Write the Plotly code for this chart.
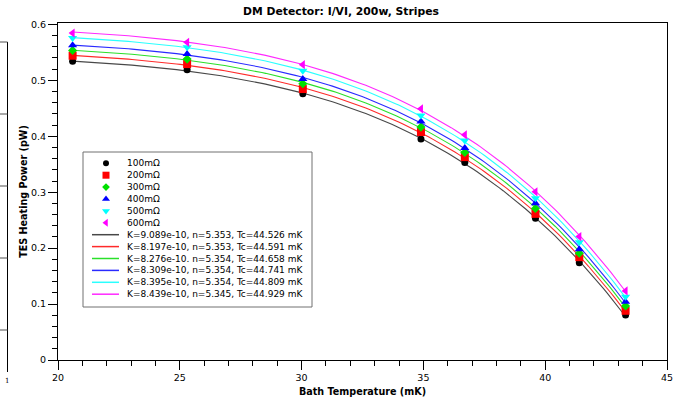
import numpy as np
import plotly.graph_objects as go

# Bath temperature (mK) at each measurement
temps = [20.6, 25.3, 30.05, 34.9, 36.7, 39.6, 41.4, 43.3]

# TES heating power (pW) for each bias resistance
p_100 = [0.534, 0.519, 0.476, 0.395, 0.353, 0.2535, 0.174, 0.0805]
p_200 = [0.544, 0.529, 0.4844, 0.4075, 0.3627, 0.2613, 0.1838, 0.088]
p_300 = [0.5535, 0.538, 0.4939, 0.4164, 0.371, 0.2708, 0.191, 0.0966]
p_400 = [0.5625, 0.547, 0.5023, 0.4265, 0.3788, 0.2804, 0.198, 0.1043]
p_500 = [0.5757, 0.559, 0.517, 0.437, 0.3925, 0.2894, 0.2106, 0.1133]
p_600 = [0.5846, 0.568, 0.528, 0.449, 0.4027, 0.3006, 0.2207, 0.1235]

series_names = ["100mΩ", "200mΩ", "300mΩ", "400mΩ", "500mΩ", "600mΩ"]
fit_labels = [
    "K=9.089e-10, n=5.353, Tc=44.526 mK",
    "K=8.197e-10, n=5.353, Tc=44.591 mK",
    "K=8.276e-10. n=5.354, Tc=44.658 mK",
    "K=8.309e-10, n=5.354, Tc=44.741 mK",
    "K=8.395e-10, n=5.354, Tc=44.809 mK",
    "K=8.439e-10, n=5.345, Tc=44.929 mK",
]
fit_n = [5.353, 5.353, 5.354, 5.354, 5.354, 5.345]

x_ticks = [20, 25, 30, 35, 40, 45]
y_ticks = [0, 0.1, 0.2, 0.3, 0.4, 0.5, 0.6]

powers = [p_100, p_200, p_300, p_400, p_500, p_600]
marker_colors = ["#000000", "#ff0000", "#00e000", "#0000ff", "#00ffff", "#ff00ff"]
line_colors = ["#484848", "#ff2a2a", "#2ae02a", "#2a2aff", "#2affff", "#ff2aff"]
symbols = ["circle", "square", "diamond", "triangle-up", "triangle-down", "triangle-left"]
sizes = [7, 8, 7, 8, 8, 8]

W, H = 675, 398
ML, MR, MT, MB = 58, 8, 23, 38
PW, PH = W - ML - MR, H - MT - MB

FONT = "DejaVu Sans"

fig = go.Figure()

# Power-law fits P = K (Tc^n - T^n), linear least squares in (K*Tc^n, K) for fixed n
t_arr = np.array(temps)
t_fine = np.linspace(t_arr.min(), t_arr.max(), 150)
for p, n, col in zip(powers, fit_n, line_colors):
    A = np.column_stack([np.ones_like(t_arr), -t_arr ** n])
    (a, k), *_ = np.linalg.lstsq(A, np.array(p), rcond=None)
    fig.add_trace(go.Scatter(x=t_fine, y=a - k * t_fine ** n, mode="lines",
                             line=dict(color=col, width=1.1), showlegend=False,
                             hoverinfo="skip"))

for p, col, sym, sz in zip(powers, marker_colors, symbols, sizes):
    fig.add_trace(go.Scatter(x=temps, y=p, mode="markers",
                             marker=dict(symbol=sym, size=sz, color=col,
                                         line=dict(width=0)),
                             showlegend=False))

# Legend box drawn on a pixel-scaled overlay axis pair
box_x0, box_x1, box_y0, box_y1 = 25, 254, 129, 284
row0, row_step = 140.3, 11.9
sym_x, line_x0, line_x1, text_x = 48, 34, 61, 66.5

shapes = [dict(type="rect", xref="x2", yref="y2", x0=box_x0, x1=box_x1,
               y0=box_y0, y1=box_y1, line=dict(color="#707070", width=1),
               fillcolor="white", layer="below")]
annotations = []
for i, (name, col, sym, sz) in enumerate(zip(series_names, marker_colors, symbols, sizes)):
    yy = row0 + row_step * i
    fig.add_trace(go.Scatter(x=[sym_x], y=[yy], xaxis="x2", yaxis="y2", mode="markers",
                             marker=dict(symbol=sym, size=sz - 1, color=col, line=dict(width=0)),
                             showlegend=False, hoverinfo="skip"))
    annotations.append(dict(xref="x2", yref="y2", x=text_x, y=yy, text=name,
                            showarrow=False, xanchor="left", yanchor="middle",
                            font=dict(family=FONT, size=9, color="black")))
for j, (lab, col) in enumerate(zip(fit_labels, line_colors)):
    yy = row0 + row_step * (6 + j)
    shapes.append(dict(type="line", xref="x2", yref="y2", x0=line_x0, x1=line_x1,
                       y0=yy, y1=yy, line=dict(color=col, width=1.5)))
    annotations.append(dict(xref="x2", yref="y2", x=text_x, y=yy, text=lab,
                            showarrow=False, xanchor="left", yanchor="middle",
                            font=dict(family=FONT, size=9, color="black")))


# Edge of the neighbouring panel at the far left
def px(x):
    return (x - ML) / PW


def py(y):
    return (MT + PH - y) / PH


shapes.append(dict(type="line", xref="paper", yref="paper", x0=px(7.5), x1=px(7.5),
                   y0=py(42), y1=py(372), line=dict(color="black", width=1)))
for ty in [42, 114, 186, 258, 330]:
    shapes.append(dict(type="line", xref="paper", yref="paper", x0=px(0), x1=px(7.5),
                       y0=py(ty), y1=py(ty), line=dict(color="#505050", width=1)))
annotations.append(dict(xref="paper", yref="paper", x=px(7), y=py(381), text="1",
                        showarrow=False, xanchor="center", yanchor="middle",
                        font=dict(family="DejaVu Serif", size=7, color="black")))

fig.update_layout(
    template="none",
    width=W, height=H,
    margin=dict(l=ML, r=MR, t=MT, b=MB, pad=0),
    paper_bgcolor="white", plot_bgcolor="white",
    title=dict(text="<b>DM Detector: I/VI, 200w, Stripes</b>", x=341 / W, xref="container",
               xanchor="center", y=1 - 11 / H, yref="container", yanchor="middle",
               font=dict(family=FONT, size=10.8, color="black")),
    xaxis=dict(range=[20, 45], tickvals=x_ticks, ticks="outside", ticklen=9,
               tickcolor="black", showgrid=False, zeroline=False, automargin=False,
               showline=True, linecolor="black", linewidth=1, mirror=True,
               minor=dict(dtick=1, ticks="outside", ticklen=5, tickcolor="black",
                          showgrid=False),
               tickfont=dict(family=FONT, size=9.5, color="black"),
               title=dict(text="<b>Bath Temperature (mK)</b>", standoff=5,
                          font=dict(family=FONT, size=9.6, color="black"))),
    yaxis=dict(range=[0, 0.6025], tickvals=y_ticks,
               ticktext=[str(v) if v else "0" for v in y_ticks],
               ticks="outside", ticklen=9, automargin=False,
               tickcolor="black", showgrid=False, zeroline=False,
               showline=True, linecolor="black", linewidth=1, mirror=True,
               minor=dict(dtick=0.02, ticks="outside", ticklen=5, tickcolor="black",
                          showgrid=False),
               tickfont=dict(family=FONT, size=9.5, color="black"),
               title=dict(text="<b>TES Heating Power (pW)</b>", standoff=1,
                          font=dict(family=FONT, size=9.6, color="black"))),
    xaxis2=dict(range=[0, PW], overlaying="x", visible=False, anchor="y2"),
    yaxis2=dict(range=[PH, 0], overlaying="y", visible=False, anchor="x2"),
    shapes=shapes,
    annotations=annotations,
    showlegend=False,
)

fig.write_html("out.html")
